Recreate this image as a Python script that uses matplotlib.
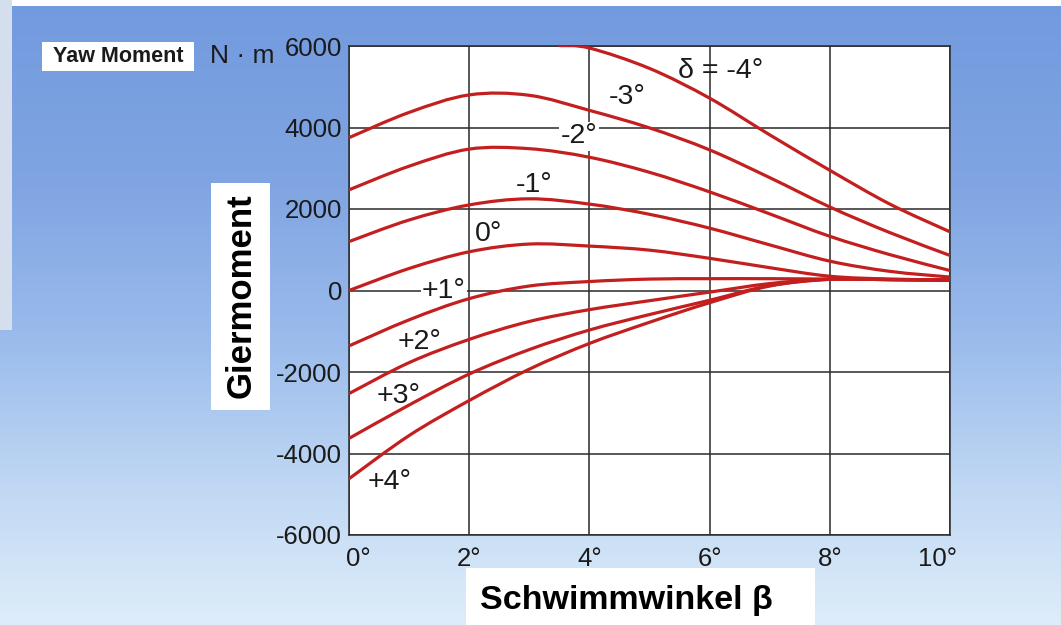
import numpy as np
import matplotlib
matplotlib.use("Agg")
import matplotlib.pyplot as plt
from matplotlib.path import Path
from matplotlib.patches import PathPatch, Rectangle
from matplotlib.transforms import ScaledTranslation

# ---------------- data ----------------
beta_deg = [0, 1, 2, 3, 4, 5, 6, 7, 8, 9, 10]
moment_m3 = [3750, 4370, 4800, 4790, 4420, 3990, 3450, 2770, 2050, 1420, 860]
moment_m2 = [2470, 3050, 3470, 3480, 3270, 2900, 2420, 1880, 1330, 880, 490]
moment_m1 = [1200, 1730, 2100, 2250, 2120, 1870, 1530, 1120, 720, 470, 330]
moment_0 = [0, 540, 950, 1140, 1090, 990, 790, 560, 350, 280, 260]
moment_p1 = [-1360, -720, -200, 110, 220, 280, 290, 290, 280, 270, 260]
moment_p2 = [-2530, -1770, -1200, -760, -470, -250, -40, 170, 280, 270, 255]
moment_p3 = [-3630, -2810, -2050, -1450, -970, -590, -240, 120, 275, 265, 250]
moment_p4 = [-4620, -3560, -2700, -1930, -1300, -780, -300, 110, 275, 265, 250]
beta_m4 = [3.5, 4, 5, 6, 7, 8, 9, 10]
moment_m4 = [6010, 5950, 5450, 4720, 3820, 2950, 2120, 1440]

x_ticks = [0, 2, 4, 6, 8, 10]
x_tick_labels = ["0°", "2°", "4°", "6°", "8°", "10°"]
y_ticks = [-6000, -4000, -2000, 0, 2000, 4000, 6000]
y_tick_labels = ["-6000", "-4000", "-2000", "0", "2000", "4000", "6000"]

curve_labels = ["δ = -4°", "-3°", "-2°", "-1°", "0°", "+1°", "+2°", "+3°", "+4°"]
label_x = [6.18, 4.63, 3.83, 3.08, 2.33, 1.58, 1.17, 0.83, 0.67]
label_y = [5390, 4745, 3786, 2600, 1390, 0, -1275, -2590, -4690]

# ---------------- figure ----------------
W, H = 1061, 625
fig = plt.figure(figsize=(W / 100, H / 100), dpi=100)
plt.rcParams['font.family'] = ['Liberation Sans', 'DejaVu Sans']

# background gradient
bg = fig.add_axes([0, 0, 1, 1], zorder=-10)
bg.set_axis_off()
stops_y = [0.0, 0.3, 0.55, 0.8, 1.0]
stops_c = np.array([[114, 154, 222], [128, 165, 226], [155, 188, 236],
                    [195, 218, 244], [222, 237, 250]]) / 255.0
yy = np.linspace(0, 1, H)
grad = np.stack([np.interp(yy, stops_y, stops_c[:, k]) for k in range(3)], axis=1)
img = np.repeat(grad[:, None, :], W, axis=1)
img[:6, :, :] = 1.0
img[:330, :12, :] = np.array([212, 222, 236]) / 255.0
bg.imshow(img, aspect='auto', extent=[0, W, H, 0], interpolation='bilinear')
bg.set_xlim(0, W)
bg.set_ylim(H, 0)

ax = fig.add_axes([349 / W, 1 - 535 / H, (950 - 349) / W, (535 - 46) / H])
ax.set_facecolor('white')
ax.set_xlim(0, 10)
ax.set_ylim(-6000, 6000)
ax.set_xticks(x_ticks)
ax.set_xticklabels(x_tick_labels)
ax.set_yticks(y_ticks)
ax.set_yticklabels(y_tick_labels)
ax.tick_params(length=0, labelsize=18.5, colors='#1a1a1a')
ax.tick_params(axis='y', pad=5)
ax.tick_params(axis='x', pad=9)
ax.grid(True, color='#2a2a2a', linewidth=1.1)
ax.set_axisbelow(True)
for s in ax.spines.values():
    s.set_color('#2a2a2a')
    s.set_linewidth(1.1)

# shift the outermost x tick labels inward like the reference
xlabels = ax.get_xticklabels()
xlabels[0].set_transform(xlabels[0].get_transform() + ScaledTranslation(0.09, 0, fig.dpi_scale_trans))
xlabels[-1].set_transform(xlabels[-1].get_transform() + ScaledTranslation(-0.13, 0, fig.dpi_scale_trans))

RED = '#c41f1f'


def smooth_path(xs, ys):
    pts = np.column_stack([xs, ys]).astype(float)
    n = len(pts)
    verts = [pts[0]]
    codes = [Path.MOVETO]
    for i in range(n - 1):
        p0 = pts[i - 1] if i > 0 else pts[i]
        p1 = pts[i]
        p2 = pts[i + 1]
        p3 = pts[i + 2] if i + 2 < n else pts[i + 1]
        c1 = p1 + (p2 - p0) / 6.0
        c2 = p2 - (p3 - p1) / 6.0
        verts += [c1, c2, p2]
        codes += [Path.CURVE4] * 3
    return Path(verts, codes)


series = [(beta_m4, moment_m4), (beta_deg, moment_m3), (beta_deg, moment_m2),
          (beta_deg, moment_m1), (beta_deg, moment_0), (beta_deg, moment_p1),
          (beta_deg, moment_p2), (beta_deg, moment_p3), (beta_deg, moment_p4)]
for xs, ys in series:
    patch = PathPatch(smooth_path(xs, ys), facecolor='none', edgecolor=RED,
                      linewidth=2.3, zorder=3, capstyle='round')
    ax.add_patch(patch)
    patch.set_clip_path(ax.patch)

for txt, lx, ly in zip(curve_labels, label_x, label_y):
    kw = {}
    z = 4
    if txt in ("+1°", "-2°"):
        kw['bbox'] = dict(facecolor='white', edgecolor='none', pad=1.0)
        z = 2.5
    ax.text(lx, ly, txt, fontsize=20.5, color='#1a1a1a', ha='center',
            va='center', zorder=z, **kw)

# outer labels
fig.text(118 / W, 1 - 57 / H, "Yaw Moment", fontsize=15.5, fontweight='bold',
         color='#1a1a1a', ha='center', va='center')
fig.patches.append(Rectangle((42 / W, 1 - 71 / H), 152 / W, 29 / H,
                             transform=fig.transFigure, facecolor='white',
                             edgecolor='none', zorder=0))
fig.text(242 / W, 1 - 56 / H, "N · m", fontsize=19, color='#1a1a1a',
         ha='center', va='center')

fig.patches.append(Rectangle((211 / W, 1 - 410 / H), 59 / W, 227 / H,
                             transform=fig.transFigure, facecolor='white',
                             edgecolor='none', zorder=0))
fig.text(241 / W, 1 - 296 / H, "Giermoment", fontsize=25, fontweight='bold',
         color='black', rotation=90, ha='center', va='center')

fig.patches.append(Rectangle((466 / W, 0), 349 / W, 57 / H,
                             transform=fig.transFigure, facecolor='white',
                             edgecolor='none', zorder=0))
fig.text(626 / W, 1 - 600 / H, "Schwimmwinkel β", fontsize=24.5,
         fontweight='bold', color='black', ha='center', va='center')

fig.savefig("out.png", dpi=100)
